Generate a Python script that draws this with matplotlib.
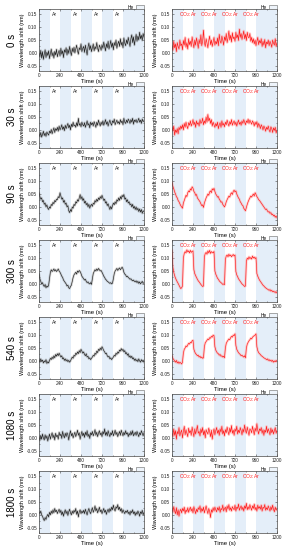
import numpy as np
import matplotlib
matplotlib.use("Agg")
import matplotlib.pyplot as plt
from matplotlib.patches import Patch
from matplotlib.ticker import FormatStrFormatter, MultipleLocator

plt.rcParams['font.family'] = ['Liberation Sans', 'DejaVu Sans']

# sampling times (s), one value every 10 s
time_s = np.arange(0, 1201, 10)

row_labels = ["0 s", "30 s", "90 s", "300 s", "540 s", "1080 s", "1800 s"]
he_spans = [(0, 120), (240, 360), (480, 600), (720, 840), (960, 1200)]
gas_label_x = [180, 420, 660, 900]

# wavelength shift in units of 0.001 nm
ar_0 = [0, -15, 10, -20, 5, -25, -5, 12, -18, 3, -10,
        8, -22, -3, 15, -12, 2, -20, 6, -8, 14,
        -15, 0, 10, -12, 18, -5, 8, -18, 12, 2,
        20, -8, 14, -2, 25, 5, -10, 18, 3, 22,
        0, 15, 30, 8, -5, 20, 12, 35, 5, 18,
        25, 2, 30, 10, -8, 22, 38, 12, 28, 5,
        20, 35, 8, 25, 15, 40, 18, 5, 30, 22,
        10, 32, 18, 42, 25, 8, 35, 20, 45, 15,
        30, 48, 22, 38, 12, 40, 28, 50, 18, 35,
        45, 25, 55, 30, 42, 20, 58, 38, 28, 50,
        35, 60, 42, 25, 55, 70, 40, 62, 30, 52,
        72, 45, 65, 50, 80, 55, 68, 48, 75, 60]
co2_0 = [30, 10, 45, 20, 35, 5, 40, 25, 15, 50, 28,
         35, 12, 48, 30, 60, 22, 40, 15, 55, 32,
         45, 25, 62, 38, 20, 50, 30, 58, 40, 18,
         52, 35, 70, 28, 45, 88, 40, 25, 55, 38,
         20, 48, 65, 32, 50, 25, 42, 60, 30, 45,
         35, 58, 28, 72, 45, 38, 65, 50, 30, 62,
         48, 75, 40, 58, 85, 50, 68, 42, 78, 55,
         62, 45, 80, 58, 70, 48, 92, 60, 75, 52,
         68, 85, 55, 72, 48, 80, 62, 58, 75, 45,
         60, 40, 55, 35, 50, 28, 45, 60, 32, 48,
         38, 55, 25, 45, 30, 52, 20, 42, 35, 50,
         28, 45, 35, 22, 50, 38, 30, 55, 25, 40]
ar_30 = [-15, -25, -10, -28, -18, -5, -22, -12, -25, -8, -15,
         -20, -5, -12, 2, -15, -3, 8, -10, 5, -2,
         10, -5, 15, 0, 8, 20, 2, 12, -3, 18,
         5, 15, 25, 8, 18, 0, 22, 12, 30, 15,
         20, 10, 28, 15, 45, 18, 25, 12, 30, 20,
         15, 28, 10, 22, 35, 18, 25, 8, 30, 20,
         28, 15, 32, 22, 10, 30, 18, 38, 25, 15,
         30, 20, 35, 18, 28, 40, 22, 32, 15, 28,
         38, 25, 18, 35, 28, 42, 20, 30, 38, 25,
         32, 22, 40, 28, 35, 20, 45, 30, 25, 38,
         28, 42, 35, 25, 40, 30, 45, 22, 38, 32,
         40, 28, 35, 45, 30, 38, 25, 42, 32, 36]
co2_30 = [10, -5, 15, -20, 0, -10, 5, -15, 10, 0, 15,
          5, 20, 0, 25, 10, 30, 15, 5, 28, 18,
          35, 15, 25, 40, 20, 30, 10, 35, 22, 28,
          15, 40, 25, 30, 45, 20, 35, 25, 50, 30,
          60, 35, 45, 25, 40, 15, 30, 20, 10, 25,
          15, 30, 5, 20, 28, 10, 35, 18, 25, 12,
          30, 20, 38, 25, 15, 32, 22, 40, 18, 28,
          35, 20, 30, 15, 28, 38, 22, 30, 18, 35,
          25, 40, 30, 20, 35, 28, 42, 25, 38, 30,
          22, 35, 28, 15, 30, 20, 32, 10, 25, 18,
          5, 20, 12, 0, 15, 8, -5, 10, 2, 15,
          0, -8, 12, 5, -10, 8, -2, 10, -12, 0]
ar_90 = [55, 40, 30, 35, 20, 25, 10, 15, 0, 8, -5,
         -10, 0, -5, 10, 5, 18, 12, 25, 20, 30,
         28, 40, 35, 55, 42, 30, 35, 18, 25, 10,
         15, 0, 5, -15, -22, -10, -18, 0, -5, 10,
         5, 20, 15, 28, 22, 35, 48, 30, 40, 25,
         32, 15, 22, 8, 15, 0, 10, -5, 5, 10,
         2, 15, 10, 25, 18, 30, 22, 35, 28, 40,
         32, 45, 35, 25, 30, 15, 20, 5, 12, 0,
         -10, 2, -8, 5, 15, 8, 20, 12, 28, 22,
         35, 25, 40, 30, 45, 38, 48, 30, 35, 20,
         28, 15, 20, 8, 12, 0, 10, -5, 2, -10,
         0, -12, -5, -18, -8, -20, -10, -25, -15, -18]
co2_90 = [95, 80, 70, 58, 50, 40, 35, 25, 20, 12, 5,
          0, -5, 15, 25, 35, 45, 40, 55, 62, 58,
          70, 65, 78, 72, 60, 55, 45, 48, 35, 30,
          25, 20, 12, 5, 8, -2, 15, 25, 35, 42,
          50, 45, 58, 62, 55, 70, 65, 72, 60, 50,
          45, 38, 40, 30, 25, 18, 20, 10, 5, 0,
          8, 20, 28, 35, 42, 38, 50, 55, 48, 60,
          65, 58, 62, 50, 42, 35, 30, 20, 15, 8,
          5, -5, -10, -15, -2, 10, 20, 28, 35, 42,
          38, 45, 50, 42, 55, 48, 40, 35, 28, 25,
          20, 15, 10, 5, 0, -5, -10, -8, -15, -20,
          -18, -25, -22, -30, -28, -35, -32, -40, -35, -42]
ar_300 = [40, 20, 10, 0, 5, -5, -10, -2, -15, -8, -12,
          -5, 20, 45, 55, 48, 52, 58, 50, 55, 48,
          52, 58, 50, 45, 38, 30, 25, 15, 10, 5,
          0, -8, -5, -15, -18, -10, -5, 10, 25, 35,
          40, 45, 38, 50, 45, 52, 48, 40, 30, 25,
          20, 15, 18, 10, 5, 8, 2, 0, 5, -2,
          20, 40, 48, 55, 50, 58, 52, 60, 55, 50,
          52, 45, 38, 30, 25, 18, 15, 10, 8, 5,
          2, 5, 0, 3, 20, 40, 50, 55, 60, 52,
          58, 62, 55, 60, 65, 58, 45, 38, 35, 28,
          30, 25, 22, 18, 20, 15, 12, 15, 10, 8,
          12, 5, 10, 2, 8, 0, 5, 10, 2, 5]
co2_300 = [130, 65, 45, 32, 22, 15, 8, 2, -5, -12, -18,
           -15, -8, 100, 118, 125, 120, 132, 124, 128, 120,
           130, 122, 126, 128, 55, 40, 32, 25, 18, 12,
           8, 3, -2, -6, -10, -8, 105, 118, 122, 115,
           128, 120, 130, 118, 125, 122, 120, 126, 50, 38,
           30, 22, 18, 12, 8, 5, 2, -2, 0, -3,
           95, 108, 112, 105, 115, 108, 112, 105, 110, 114,
           108, 112, 48, 35, 28, 20, 15, 10, 5, 0,
           -3, -6, -10, -8, 88, 100, 95, 105, 98, 102,
           96, 108, 100, 104, 98, 102, 40, 30, 22, 15,
           10, 5, 0, -5, -8, -12, -15, -18, -20, -22,
           -25, -22, -28, -25, -30, -28, -32, -30, -35, -30]
ar_540 = [5, -5, 8, -2, 3, -8, 0, -5, 5, -10, -3,
          -8, 2, 10, 5, 15, 8, 20, 12, 25, 18,
          28, 20, 30, 22, 15, 20, 8, 12, 2, 8,
          0, 5, -3, 2, -5, 0, 8, 15, 10, 22,
          18, 30, 25, 35, 28, 40, 32, 45, 38, 30,
          35, 25, 20, 28, 15, 18, 8, 12, 5, 10,
          15, 22, 18, 30, 25, 38, 32, 45, 40, 50,
          42, 55, 48, 40, 35, 28, 30, 20, 15, 18,
          8, 12, 5, 10, 15, 22, 18, 30, 25, 35,
          30, 42, 38, 48, 40, 45, 35, 40, 28, 32,
          22, 28, 15, 20, 12, 18, 8, 12, 2, 8,
          0, 5, -3, 8, 0, -5, 5, -2, 3, -5]
co2_540 = [20, 10, 5, 0, -5, 2, -8, -3, -10, -5, -8,
           -12, -5, 30, 45, 50, 58, 55, 62, 68, 65,
           72, 70, 78, 80, 45, 35, 28, 25, 20, 22,
           15, 18, 12, 15, 10, 12, 55, 70, 75, 80,
           85, 82, 90, 88, 95, 92, 100, 98, 55, 42,
           35, 30, 28, 22, 25, 18, 20, 15, 18, 12,
           50, 68, 75, 80, 85, 82, 90, 95, 92, 100,
           98, 105, 60, 45, 38, 32, 28, 25, 20, 22,
           18, 15, 20, 12, 50, 65, 72, 78, 82, 88,
           85, 92, 95, 98, 100, 105, 55, 40, 32, 28,
           25, 20, 18, 15, 12, 10, 8, 5, 8, 2,
           5, 0, 3, -2, 2, -5, 0, -3, 2, -2]
ar_1080 = [5, -10, 10, -5, 15, 0, -8, 12, -3, 8, -12,
           2, 15, -5, 10, 20, 0, 12, -8, 18, 5,
           10, -5, 22, 8, 15, -2, 25, 10, 0, 18,
           5, 20, 12, -8, 15, 28, 8, 18, 0, 12,
           22, 5, 15, 30, 10, 20, -5, 12, 25, 8,
           18, 2, 22, 10, 28, 5, 15, -2, 20, 12,
           25, 8, 18, 32, 10, 22, 5, 18, 28, 12,
           20, 5, 25, 15, 35, 10, 22, 8, 28, 15,
           5, 20, 12, 28, 8, 18, 30, 12, 22, 5,
           15, 25, 10, 30, 18, 8, 22, 12, 28, 15,
           20, 5, 18, 10, 25, 12, 28, 8, 15, 22,
           10, 25, 15, 5, 20, 12, 28, 18, 8, 20]
co2_1080 = [20, 5, 35, 10, 28, -5, 25, 15, 40, 8, 22,
            30, 0, 25, 45, 12, 32, 18, 5, 38, 20,
            28, 10, 42, 22, 5, 35, 15, 30, 48, 18,
            25, 8, 35, 20, 40, 12, 28, 0, 32, 22,
            15, 38, 25, 5, 30, -5, 20, 35, 12, 28,
            40, 18, 30, 10, 35, 22, 45, 15, 28, 8,
            32, 20, 42, 25, 12, 38, 22, 48, 18, 30,
            10, 35, 25, 45, 15, 30, 20, 40, 28, 12,
            35, 22, 50, 28, 18, 42, 25, 10, 35, 30,
            20, 45, 28, 12, 38, 25, 55, 30, 15, 35,
            28, 40, 18, 32, 10, 30, 22, 45, 20, 35,
            25, 12, 38, 20, 32, 15, 28, 40, 18, 30]
ar_1800 = [12, 5, 15, 0, -5, -15, -22, -10, -18, -5, 2,
           -8, 10, 0, 15, 5, 20, 8, 25, 12, 18,
           5, 15, 22, 8, 18, 0, 12, -5, 10, 20,
           5, 15, -2, 12, 22, 8, 0, 15, 5, 18,
           10, 25, 2, 15, -8, 12, 20, 5, 15, 8,
           18, 5, 22, 10, 0, 15, 25, 12, 5, 18,
           28, 10, 20, 35, 15, 25, 8, 18, 30, 12,
           20, 5, 15, 25, 10, 18, 2, 15, 22, 10,
           25, 15, 30, 20, 38, 22, 15, 32, 25, 40,
           20, 30, 15, 25, 8, 20, 12, 5, 15, 10,
           18, 5, 12, 0, 15, 8, 20, 5, 12, -2,
           10, 2, 15, 8, -5, 12, 5, 18, 0, 10]
co2_1800 = [25, 10, 32, 15, 5, 28, 0, 20, -5, 15, 22,
            8, 25, 15, 30, 5, 20, 12, 28, 10, 22,
            30, 15, 25, 8, 32, 18, 5, 22, 12, 28,
            20, 35, 10, 25, 15, 30, 8, 22, 35, 18,
            5, 25, 15, -10, 20, 10, 28, 15, 30, 20,
            12, 28, 18, 32, 10, 25, 20, 38, 15, 25,
            30, 12, 35, 22, 40, 18, 28, 15, 32, 25,
            20, 38, 15, 30, 25, 42, 18, 28, 35, 20,
            30, 15, 35, 25, 45, 20, 32, 22, 40, 28,
            18, 35, 25, 42, 20, 30, 15, 38, 25, 32,
            22, 38, 15, 30, 25, 40, 18, 28, 20, 35,
            25, 15, 32, 20, 38, 22, 12, 30, 18, 25]

ar_series = [ar_0, ar_30, ar_90, ar_300, ar_540, ar_1080, ar_1800]
co2_series = [co2_0, co2_30, co2_90, co2_300, co2_540, co2_1080, co2_1800]

fig = plt.figure(figsize=(2.87, 5.5), dpi=100)
W, H = 287.0, 550.0


def style_axes(ax):
    for s in ax.spines.values():
        s.set_linewidth(0.5)
        s.set_color('#444444')
    ax.set_xlim(0, 1200)
    ax.set_ylim(-0.07, 0.17)
    ax.set_xticks(np.arange(0, 1201, 240))
    ax.xaxis.set_minor_locator(MultipleLocator(120))
    ax.set_yticks([-0.05, 0.0, 0.05, 0.10, 0.15])
    ax.yaxis.set_minor_locator(MultipleLocator(0.025))
    ax.yaxis.set_major_formatter(FormatStrFormatter('%.2f'))
    ax.tick_params(which='both', direction='in', top=True, right=True,
                   width=0.4, colors='#444444', labelcolor='#222222')
    ax.tick_params(which='major', length=1.6, labelsize=3.4, pad=1.2)
    ax.tick_params(which='minor', length=0.9)
    ax.set_xlabel('Time (s)', fontsize=4.3, labelpad=0.8)
    ax.set_ylabel('Wavelength shift (nm)', fontsize=4.0, labelpad=1.0)
    for a, b in he_spans:
        ax.axvspan(a, b, color='#e4eef9', lw=0, zorder=0)
    ax.legend(handles=[Patch(facecolor='#eef4fb', edgecolor='#666666', lw=0.4, label='He')],
              loc='lower right', bbox_to_anchor=(1.0, 0.985), frameon=False,
              fontsize=3.4, markerfirst=False, handlelength=1.8, handleheight=0.9,
              borderpad=0.0, handletextpad=0.4, borderaxespad=0.0)


for r in range(7):
    top = 9 + 77 * r
    bottom = 1 - (top + 62) / H
    hfrac = 62 / H

    axl = fig.add_axes([39 / W, bottom, 105 / W, hfrac])
    style_axes(axl)
    yl = np.array(ar_series[r]) / 1000.0
    axl.plot(time_s, yl, color='#8a8a8a', lw=1.7, alpha=0.35)
    axl.plot(time_s, yl, color='#222222', lw=0.45)
    for x in gas_label_x:
        axl.text(x, 0.148, 'Ar', fontsize=3.6, ha='center', va='center', color='#222222')

    axr = fig.add_axes([172 / W, bottom, 105 / W, hfrac])
    style_axes(axr)
    yr = np.array(co2_series[r]) / 1000.0
    axr.plot(time_s, yr, color='#ff9a9a', lw=1.8, alpha=0.45)
    axr.plot(time_s, yr, color='#ff1a1a', lw=0.45)
    for x in gas_label_x:
        axr.text(x, 0.148, 'CO$_2$:Ar', fontsize=3.6, ha='center', va='center', color='#ff2020')

    fig.text(12 / W, 1 - (top + 31) / H, row_labels[r], rotation=90,
             fontsize=7, ha='center', va='center')

fig.savefig('out.png', dpi=100)
